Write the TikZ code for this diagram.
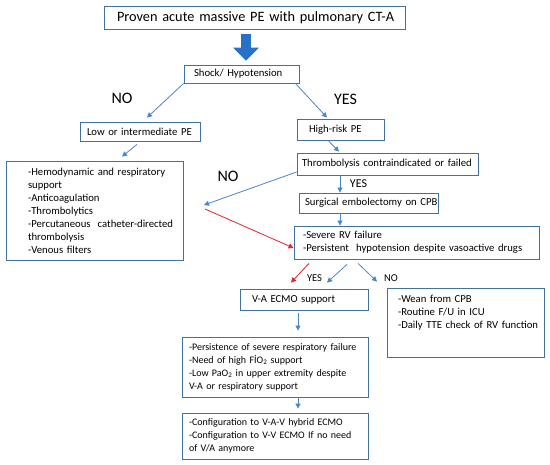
\documentclass[tikz,border=0pt]{standalone}
\usepackage{fontspec}
\setmainfont{Carlito}
\usepackage{xcolor}
\usepackage{tikz}
\usetikzlibrary{shapes,arrows.meta}
\definecolor{boxBlue}{HTML}{41719C}
\definecolor{lineBlue}{HTML}{4A86C8}
\definecolor{fillBlue}{HTML}{2672C9}
\definecolor{lineRed}{HTML}{E3242B}
\tikzstyle{tsText} = [
    text=black,
    font=\fontsize{10.7}{13}\selectfont
]
\tikzstyle{tsBox} = [
    rectangle,
    tsText,
    draw=boxBlue,
    line width=0.8pt,
    inner xsep=0pt,
    inner ysep=3pt,
    align=left
]
\tikzstyle{tsSmallBox} = [
    tsBox,
    font=\fontsize{10}{13}\selectfont
]
\tikzstyle{tsLabel} = [
    text=black,
    inner sep=0pt,
    font=\fontsize{16}{19}\selectfont
]
\tikzstyle{tsArrow} = [
    draw=lineBlue,
    line width=0.8pt,
    -{Triangle[length=5pt,width=5pt]}
]
\tikzstyle{tsRedArrow} = [
    tsArrow,
    draw=lineRed
]
\tikzstyle{tsBlockArrow} = [
    draw=fillBlue,
    line width=10pt,
    -{Triangle[length=13pt,width=25pt]}
]
\tikzset{tsIndent/.style={execute at begin node={\leftskip=#1\relax}}}

\begin{document}
\begin{tikzpicture}[x=1pt, y=-1pt]

    \fill[white] (0,0) rectangle (550,465);
    \useasboundingbox (0,0) rectangle (550,465);

    % boxes
    \node[ tsBox,
            text width=301pt,
            minimum height=23pt,
            tsIndent=13pt,
            font=\fontsize{14.3}{17}\selectfont] (title) at (254.5,18) {Proven acute massive PE with pulmonary CT-A};

    \node[ tsBox,
            text width=115pt,
            minimum height=18pt,
            tsIndent=10pt] (shock) at (241.5,74) {Shock/ Hypotension};

    \node[ tsBox,
            text width=120pt,
            minimum height=19pt,
            tsIndent=7pt] (low) at (140,131.5) {Low or intermediate PE};

    \node[ tsBox,
            text width=87pt,
            minimum height=21pt,
            tsIndent=12pt] (high) at (340.5,129.5) {High-risk PE};

    \node[ tsBox,
            text width=177pt,
            minimum height=99pt,
            tsIndent=22pt] (treat) at (94.5,210.5) {-Hemodynamic and respiratory\\
            support\\
            -Anticoagulation\\
            -Thrombolytics\\
            -Percutaneous~ catheter-directed\\
            thrombolysis\\
            -Venous filters};

    \node[ tsBox,
            text width=181pt,
            minimum height=22pt,
            tsIndent=5pt] (thromb) at (387.5,164) {Thrombolysis contraindicated or failed};

    \node[ tsBox,
            text width=139pt,
            minimum height=20pt,
            tsIndent=6pt] (surg) at (368.5,203) {Surgical embolectomy on CPB};

    \node[ tsBox,
            text width=245pt,
            minimum height=33pt,
            tsIndent=9pt] (severe) at (416.5,242.5) {-Severe RV failure\\
            -Persistent~ hypotension despite vasoactive drugs};

    \node[ tsBox,
            text width=128pt,
            minimum height=21pt,
            tsIndent=12pt] (ecmo) at (304,299.5) {V-A ECMO support};

    \node[ tsBox,
            text width=157pt,
            inner ysep=4pt,
            text height=10.5pt,
            text depth=50.5pt,
            tsIndent=11pt] (wean) at (465.5,322.5) {-Wean from CPB\\
            -Routine F/U in ICU\\
            -Daily TTE check of RV function};

    \node[ tsSmallBox,
            text width=186pt,
            minimum height=60pt,
            tsIndent=7pt] (persist) at (275,367) {-Persistence of severe respiratory failure\\
            -Need of high FİO\textsubscript{2} support\\
            -Low PaO\textsubscript{2} in upper extremity despite\\
            V-A or respiratory support};

    \node[ tsSmallBox,
            text width=186pt,
            minimum height=46pt,
            tsIndent=7pt] (config) at (275,436) {-Configuration to V-A-V hybrid ECMO\\
            -Configuration to V-V ECMO If no need\\
            of V/A anymore};

    % labels
    \node[tsLabel] (noA) at (122,98) {NO};
    \node[tsLabel] (yesA) at (345.5,99) {YES};
    \node[tsLabel] (noB) at (228,176) {NO};
    \node[tsLabel, font=\fontsize{12}{14}\selectfont] (yesB) at (358.5,184) {YES};
    \node[tsLabel, font=\fontsize{10.5}{13}\selectfont] (yesC) at (314.5,278) {YES};
    \node[tsLabel, font=\fontsize{10.5}{13}\selectfont] (noC) at (391,278) {NO};

    % connectors
    \coordinate (noend) at (204,205);
    \coordinate (redstart) at (205,209);

    \draw[tsBlockArrow] ([xshift=-8.5pt,yshift=-4pt]title.south) -- ([xshift=4.5pt,yshift=4pt]shock.north);
    \draw[tsArrow] (shock.south west) -- ([xshift=7pt,yshift=4pt]low.north);
    \draw[tsArrow] ([xshift=-4pt]shock.south east) -- ([xshift=-13.5pt,yshift=1pt]high.north);
    \draw[tsArrow] ([xshift=-3pt,yshift=-3pt]low.south) -- ([xshift=27.5pt,yshift=4pt]treat.north);
    \draw[tsArrow] ([xshift=-12.5pt]high.south) -- ([xshift=-48.5pt,yshift=1pt]thromb.north);
    \draw[tsArrow] ([xshift=-47.5pt]thromb.south) -- ([xshift=-28.5pt]surg.north);
    \draw[tsArrow] ([xshift=-28.5pt]surg.south) -- ([xshift=-76.5pt]severe.north);
    \draw[tsArrow] ([yshift=-8pt]thromb.west) -- (noend);
    \draw[tsRedArrow] (redstart) -- ([yshift=-5.5pt]severe.west);
    \draw[tsRedArrow] ([xshift=-107.5pt,yshift=-4pt]severe.south) -- ([xshift=-13pt,yshift=6pt]ecmo.north);
    \draw[tsArrow] ([xshift=-69.5pt,yshift=-5pt]severe.south) -- ([xshift=23pt,yshift=6pt]ecmo.north);
    \draw[tsArrow] ([xshift=-58.5pt,yshift=-4pt]severe.south) -- ([xshift=-88.5pt,yshift=6pt]wean.north);
    \draw[tsArrow] ([xshift=-6pt,yshift=-3pt]ecmo.south) -- ([xshift=23pt,yshift=6pt]persist.north);
    \draw[tsArrow] ([xshift=23pt]persist.south) -- ([xshift=23pt,yshift=4pt]config.north);

\end{tikzpicture}
\end{document}
